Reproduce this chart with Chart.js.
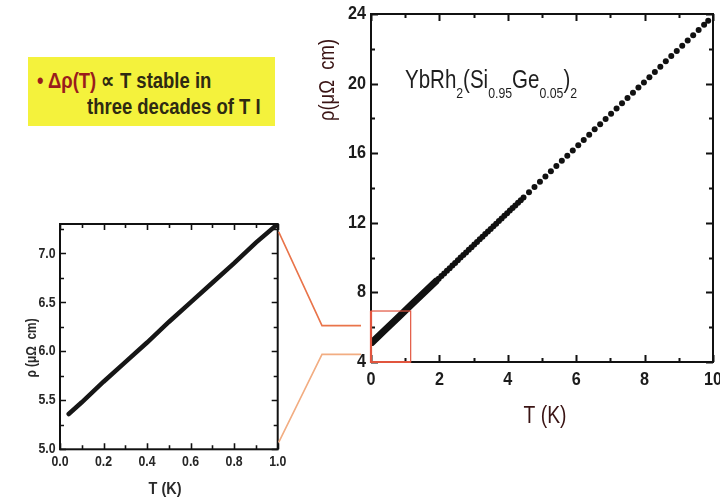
<!DOCTYPE html>
<html>
<head>
<meta charset="utf-8">
<script src="https://cdn.jsdelivr.net/npm/chart.js@4.4.1/dist/chart.umd.min.js"></script>
<style>
  html, body { margin: 0; padding: 0; background: #fff; width: 720px; height: 497px; overflow: hidden; }
  #wrap { position: relative; width: 720px; height: 497px; }
  canvas { position: absolute; }
  #main { left: 0; top: 0; }
  #inset { left: 0; top: 200px; }
  #links { left: 0; top: 0; pointer-events: none; }
  #note {
    position: absolute; left: 28px; top: 57px; width: 247px; height: 69px;
    background: #f4f23c;
    font-family: 'Liberation Sans', Arial, sans-serif; font-weight: bold;
    font-size: 22px; line-height: 26px; color: #2e2a12;
  }
  #note .ln { position: absolute; white-space: nowrap; display: inline-block;
              transform: scaleX(0.84); transform-origin: 0 50%; }
  #note .l1 { left: 9px; top: 11px; }
  #note .l2 { left: 59px; top: 37px; }
  #note .hl { color: #9a1c1c; }
</style>
</head>
<body>
<div id="wrap">
  <canvas id="main" width="720" height="497"></canvas>
  <div id="note">
    <span class="ln l1"><span class="hl">• Δρ(T)</span> ∝ T stable in</span>
    <span class="ln l2">three decades of T I</span>
  </div>
  <canvas id="inset" width="300" height="297"></canvas>
  <canvas id="links" width="720" height="497"></canvas>
</div>
<script>
// ---- Resistivity of YbRh2(Si0.95Ge0.05)2, 0-10 K ----
// low-T part: dense measurement, drawn as a thick continuous trace
const mainBandT   = [0.03, 0.40, 0.80, 1.20, 1.60, 1.90];
const mainBandRho = [5.13, 5.82, 6.57, 7.33, 8.08, 8.64];
// higher-T part: individual measured points
const mainDotT = [
  1.90, 1.98, 2.06, 2.14, 2.22, 2.30, 2.38, 2.46, 2.54, 2.62, 2.70, 2.78, 2.86, 2.94,
  3.02, 3.10, 3.18, 3.26, 3.34, 3.42, 3.50, 3.58, 3.66, 3.74, 3.82, 3.90, 3.98, 4.06,
  4.14, 4.22, 4.30, 4.38, 4.46,
  4.62, 4.78, 4.94, 5.10, 5.26, 5.42, 5.58, 5.74, 5.90, 6.06, 6.22, 6.38, 6.54, 6.70,
  6.86, 7.02, 7.18, 7.34, 7.50, 7.66, 7.82, 7.98, 8.14, 8.30, 8.46, 8.62, 8.78, 8.94,
  9.10, 9.26, 9.42, 9.58, 9.74, 9.86
];
const mainDotRho = [
  8.64, 8.79, 8.94, 9.09, 9.24, 9.39, 9.54, 9.69, 9.85, 10.00, 10.15, 10.30, 10.45, 10.60,
  10.75, 10.90, 11.05, 11.20, 11.35, 11.50, 11.65, 11.80, 11.95, 12.10, 12.25, 12.40, 12.55, 12.70,
  12.85, 13.00, 13.15, 13.30, 13.45,
  13.76, 14.06, 14.36, 14.66, 14.96, 15.26, 15.56, 15.86, 16.16, 16.46, 16.76, 17.06, 17.37, 17.67,
  17.97, 18.27, 18.57, 18.87, 19.17, 19.47, 19.77, 20.07, 20.37, 20.67, 20.97, 21.28, 21.58, 21.88,
  22.18, 22.48, 22.78, 23.08, 23.38, 23.61
];
const mainXMajor = [0, 2, 4, 6, 8, 10];
const mainXMinor = [1, 3, 5, 7, 9];
const mainYMajor = [4, 8, 12, 16, 20, 24];
const mainYMinor = [6, 10, 14, 18, 22];
// region enlarged in the inset
const zoomBoxT   = [0, 1.16];
const zoomBoxRho = [4, 6.93];

// ---- Inset: 0-1 K ----
const insetT   = [0.04, 0.10, 0.20, 0.30, 0.40, 0.50, 0.60, 0.70, 0.80, 0.90, 1.00];
const insetRho = [5.36, 5.48, 5.69, 5.89, 6.09, 6.30, 6.50, 6.70, 6.90, 7.11, 7.30];
const insetXMajor = [0, 0.2, 0.4, 0.6, 0.8, 1.0];
const insetXMinor = [0.1, 0.3, 0.5, 0.7, 0.9];
const insetYMajor = [5.0, 5.5, 6.0, 6.5, 7.0];
const insetYMinor = [5.25, 5.75, 6.25, 6.75, 7.25];

// connector anchors (values on the inset and main rho axes)
const linkInsetRho = [7.22, 5.07];
const linkMainRho  = [6.09, 4.44];

const SANS = "'Liberation Sans', Arial, sans-serif";
const NARROW_X = 0.82;   // horizontal squeeze giving a narrow face

const pts = (xs, ys) => xs.map((v, i) => ({ x: v, y: ys[i] }));

// text with horizontal squeeze, optionally rotated
function squeezedText(ctx, s, x, y, align, sx, rot) {
  ctx.save();
  ctx.translate(x, y);
  if (rot) ctx.rotate(rot);
  ctx.scale(sx, 1);
  ctx.textAlign = align;
  ctx.textBaseline = 'middle';
  ctx.fillText(s, 0, 0);
  ctx.restore();
}

// frame on all four sides, inward tick marks and tick labels
function makeFrame(o) {
  return {
    id: 'frame',
    afterDraw(chart) {
      const { ctx, chartArea: a, scales: { x, y } } = chart;
      ctx.save();
      ctx.strokeStyle = o.color;
      ctx.lineWidth = o.tickWidth;
      ctx.beginPath();
      const xt = (vals, len) => vals.forEach(v => {
        const px = Math.round(x.getPixelForValue(v)) + 0.5;
        ctx.moveTo(px, a.bottom); ctx.lineTo(px, a.bottom - len);
        ctx.moveTo(px, a.top); ctx.lineTo(px, a.top + len);
      });
      const yt = (vals, len) => vals.forEach(v => {
        const py = Math.round(y.getPixelForValue(v)) + 0.5;
        ctx.moveTo(a.left, py); ctx.lineTo(a.left + len, py);
        ctx.moveTo(a.right, py); ctx.lineTo(a.right - len, py);
      });
      xt(o.xMajor, o.major); xt(o.xMinor, o.minor);
      yt(o.yMajor, o.major); yt(o.yMinor, o.minor);
      ctx.stroke();
      ctx.lineWidth = o.width;
      ctx.strokeRect(a.left, a.top, a.right - a.left, a.bottom - a.top);

      ctx.fillStyle = o.labelColor;
      ctx.font = o.labelFont;
      for (const v of o.xMajor) {
        squeezedText(ctx, o.fmt(v), x.getPixelForValue(v), a.bottom + o.xLabelGap, 'center', o.labelScale);
      }
      for (const v of o.yMajor) {
        squeezedText(ctx, o.fmt(v), a.left - o.yLabelGap, y.getPixelForValue(v), 'right', o.labelScale);
      }
      ctx.restore();
    }
  };
}

function drawTitles(ctx, t) {
  ctx.save();
  ctx.fillStyle = t.color;
  ctx.font = t.xFont;
  squeezedText(ctx, t.xText, t.xPos[0], t.xPos[1], 'center', t.sx);
  ctx.font = t.yFont;
  squeezedText(ctx, t.yText, t.yPos[0], t.yPos[1], 'center', t.sx, -Math.PI / 2);
  ctx.restore();
}

const mainDecor = {
  id: 'mainDecor',
  afterDraw(chart) {
    const { ctx, scales: { x, y } } = chart;
    // enlarged-region box
    const bx0 = x.getPixelForValue(zoomBoxT[0]), bx1 = x.getPixelForValue(zoomBoxT[1]);
    const by0 = y.getPixelForValue(zoomBoxRho[0]), by1 = y.getPixelForValue(zoomBoxRho[1]);
    ctx.save();
    ctx.strokeStyle = '#e2553f';
    ctx.lineWidth = 2.2;
    ctx.beginPath();
    ctx.moveTo(bx0, by1); ctx.lineTo(bx0, by0); ctx.lineTo(bx1, by0);
    ctx.stroke();
    ctx.lineWidth = 1.2;
    ctx.strokeRect(bx0, by1, bx1 - bx0, by0 - by1);
    ctx.restore();

    drawTitles(ctx, {
      color: '#3a1414', sx: 0.84,
      xText: 'T (K)', xFont: '23px ' + SANS, xPos: [545, 417],
      yText: 'ρ(μΩ  cm)', yFont: '22px ' + SANS, yPos: [328, 80]
    });

    // compound label with subscripts
    const parts = [['YbRh', 0], ['2', 1], ['(Si', 0], ['0.95', 1], ['Ge', 0], ['0.05', 1], [')', 0], ['2', 1]];
    ctx.save();
    ctx.fillStyle = '#1e1e1e';
    ctx.textBaseline = 'alphabetic';
    ctx.textAlign = 'left';
    ctx.translate(405, 88);
    ctx.scale(NARROW_X, 1);
    let cx = 0;
    parts.forEach(([s, sub]) => {
      ctx.font = (sub ? '15px ' : '25px ') + SANS;
      ctx.fillText(s, cx, sub ? 10 : 0);
      cx += ctx.measureText(s).width;
    });
    ctx.restore();
  }
};

const insetDecor = {
  id: 'insetDecor',
  afterDraw(chart) {
    drawTitles(chart.ctx, {
      color: '#2a2a2a', sx: 0.85,
      xText: 'T (K)', xFont: 'bold 17px ' + SANS, xPos: [165, 289],
      yText: 'ρ (μΩ  cm)', yFont: 'bold 14px ' + SANS, yPos: [32.5, 148]
    });
  }
};

function scaleOpts(min, max, step, fitSize, isX) {
  return {
    type: 'linear', min, max,
    ticks: { stepSize: step, display: false },
    grid: { display: false, drawTicks: false },
    border: { display: false },
    afterFit(s) {
      if (isX) { s.height = fitSize; s.paddingLeft = 0; s.paddingRight = 0; }
      else { s.width = fitSize; s.paddingTop = 0; s.paddingBottom = 0; }
    }
  };
}

const mainChart = new Chart(document.getElementById('main'), {
  type: 'scatter',
  data: {
    datasets: [
      { data: pts(mainBandT, mainBandRho), showLine: true, borderColor: '#111', borderWidth: 7,
        borderCapStyle: 'round', pointRadius: 0 },
      { data: pts(mainDotT, mainDotRho), showLine: false, pointRadius: 3,
        backgroundColor: '#111', borderWidth: 0 }
    ]
  },
  options: {
    responsive: false, animation: false, devicePixelRatio: 1,
    layout: { padding: { top: 14, right: 7, left: 0, bottom: 0 } },
    plugins: { legend: { display: false }, tooltip: { enabled: false } },
    scales: {
      x: scaleOpts(0, 10, 2, 135, true),
      y: scaleOpts(4, 24, 4, 371, false)
    }
  },
  plugins: [makeFrame({
    color: '#111', width: 2, tickWidth: 2, major: 7, minor: 4,
    xMajor: mainXMajor, xMinor: mainXMinor, yMajor: mainYMajor, yMinor: mainYMinor,
    labelFont: 'bold 18px ' + SANS, labelColor: '#1c1c1c', labelScale: 0.9,
    fmt: v => String(v), xLabelGap: 18, yLabelGap: 5
  }), mainDecor]
});

const insetChart = new Chart(document.getElementById('inset'), {
  type: 'scatter',
  data: {
    datasets: [
      { data: pts(insetT, insetRho), showLine: true, borderColor: '#161616', borderWidth: 4.5,
        borderCapStyle: 'round', pointRadius: 0 }
    ]
  },
  options: {
    responsive: false, animation: false, devicePixelRatio: 1,
    layout: { padding: { top: 24, right: 22.3, left: 0, bottom: 0 } },
    plugins: { legend: { display: false }, tooltip: { enabled: false } },
    scales: {
      x: scaleOpts(0, 1, 0.2, 47.7, true),
      y: scaleOpts(5, 7.3, 0.5, 60, false)
    }
  },
  plugins: [makeFrame({
    color: '#111', width: 2, tickWidth: 1.6, major: 6, minor: 4,
    xMajor: insetXMajor, xMinor: insetXMinor, yMajor: insetYMajor, yMinor: insetYMinor,
    labelFont: 'bold 15px ' + SANS, labelColor: '#262626', labelScale: NARROW_X,
    fmt: v => v.toFixed(1), xLabelGap: 13, yLabelGap: 4.5
  }), insetDecor]
});

// connector lines from the inset to the enlarged region of the main plot
(function drawLinks() {
  const ctx = document.getElementById('links').getContext('2d');
  const insetTop = 200;
  const ia = insetChart.chartArea, ma = mainChart.chartArea;
  const elbowX = 322;
  const colors = ['#e9744a', '#f2ad82'];
  linkInsetRho.forEach((r, i) => {
    const y0 = insetChart.scales.y.getPixelForValue(r) + insetTop;
    const y1 = mainChart.scales.y.getPixelForValue(linkMainRho[i]);
    ctx.strokeStyle = colors[i];
    ctx.lineWidth = 1.6;
    ctx.beginPath();
    ctx.moveTo(ia.right + 1, y0);
    ctx.lineTo(elbowX, y1);
    ctx.lineTo(ma.left - 10, y1);
    ctx.stroke();
  });
})();
</script>
</body>
</html>
